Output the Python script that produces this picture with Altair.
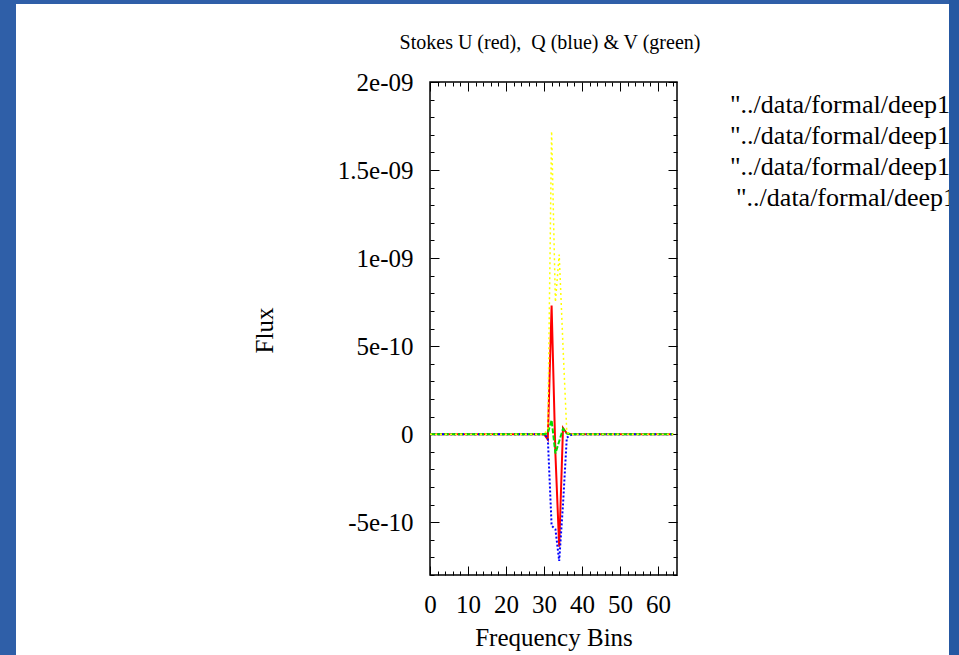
import json
import altair as alt
import pandas as pd

# ---------------- data ----------------
bins = list(range(65))

flux_u_red = [
    0, 0, 0, 0, 0, 0, 0, 0, 0, 0,
    0, 0, 0, 0, 0, 0, 0, 0, 0, 0,
    0, 0, 0, 0, 0, 0, 0, 0, 0, 0,
    0, -0.3e-10, 7.3e-10, -1.1e-10, -6.4e-10, 0.35e-10, 0.05e-10, 0, 0, 0,
    0, 0, 0, 0, 0, 0, 0, 0, 0, 0,
    0, 0, 0, 0, 0, 0, 0, 0, 0, 0,
    0, 0, 0, 0, 0,
]
flux_q_blue = [
    0, 0, 0, 0, 0, 0, 0, 0, 0, 0,
    0, 0, 0, 0, 0, 0, 0, 0, 0, 0,
    0, 0, 0, 0, 0, 0, 0, 0, 0, 0,
    0, -0.2e-10, -5.2e-10, -5.4e-10, -7.2e-10, -4.0e-10, -0.2e-10, -0.05e-10, 0, 0,
    0, 0, 0, 0, 0, 0, 0, 0, 0, 0,
    0, 0, 0, 0, 0, 0, 0, 0, 0, 0,
    0, 0, 0, 0, 0,
]
flux_v_green = [
    0, 0, 0, 0, 0, 0, 0, 0, 0, 0,
    0, 0, 0, 0, 0, 0, 0, 0, 0, 0,
    0, 0, 0, 0, 0, 0, 0, 0, 0, 0,
    0, 0.05e-10, 0.8e-10, -1.1e-10, -0.4e-10, 0.3e-10, 0.05e-10, 0, 0, 0,
    0, 0, 0, 0, 0, 0, 0, 0, 0, 0,
    0, 0, 0, 0, 0, 0, 0, 0, 0, 0,
    0, 0, 0, 0, 0,
]
flux_yellow = [
    0, 0, 0, 0, 0, 0, 0, 0, 0, 0,
    0, 0, 0, 0, 0, 0, 0, 0, 0, 0,
    0, 0, 0, 0, 0, 0, 0, 0, 0, 0,
    0.05e-10, 0.2e-10, 17.2e-10, 7.5e-10, 10.2e-10, 5.0e-10, 0.1e-10, 0, 0, 0,
    0, 0, 0, 0, 0, 0, 0, 0, 0, 0,
    0, 0, 0, 0, 0, 0, 0, 0, 0, 0,
    0, 0, 0, 0, 0,
]

x_major_ticks = [0, 10, 20, 30, 40, 50, 60]
x_minor_ticks = list(range(0, 65, 2))
y_major_ticks = [-5e-10, 0, 5e-10, 1e-09, 1.5e-09, 2e-09]
y_tick_labels = ["-5e-10", "0", "5e-10", "1e-09", "1.5e-09", "2e-09"]
y_minor_ticks = [k * 1e-10 for k in range(-8, 21)]

chart_title = "Stokes U (red), \u00a0Q (blue) & V (green)"
x_title = "Frequency Bins"
y_title = "Flux"
key_labels = ['"../data/formal/deep1', '"../data/formal/deep1',
              '"../data/formal/deep1', '"../data/formal/deep1']

# ---------------- layout ----------------
W, H = 247, 493
PAD_L, PAD_T = 430, 82
PAD_R, PAD_B = 959 - PAD_L - W, 655 - PAD_T - H
FONT = "Liberation Serif"
BLUE_BG = "#2f5fa8"
BLUE_STRIP = "#2558a2"

x_scale = alt.Scale(domain=[0, 65], nice=False, zero=False)
y_scale = alt.Scale(domain=[-8e-10, 2e-09], nice=False, zero=False)

x_major_test = "datum.value % 10 === 0"
y_major_test = "abs(datum.value / 5e-10 - round(datum.value / 5e-10)) < 0.001"


def inner_tick_axis(orient, offset, values, test):
    return alt.Axis(
        orient=orient, offset=offset, values=values, labels=False,
        domain=False, grid=False, title="", tickColor="black", tickWidth=1,
        tickSize={"condition": {"test": test, "value": 9}, "value": 4},
    )


x_label_axis = alt.Axis(
    orient="bottom", values=x_major_ticks, format="d", ticks=False, tickSize=0,
    domain=False, grid=False, labelFont=FONT, labelFontSize=25,
    labelColor="black", labelPadding=17, labelFlush=False, labelOverlap=False,
    title=x_title, titleFont=FONT, titleFontSize=25, titleFontWeight="normal",
    titleColor="black", titleY=70, titleBaseline="alphabetic",
)
y_label_axis = alt.Axis(
    orient="left", values=y_major_ticks,
    labelExpr=json.dumps(y_tick_labels) + "[round(datum.value / 5e-10) + 1]",
    ticks=False, tickSize=0, domain=False, grid=False, labelFont=FONT,
    labelFontSize=25, labelColor="black", labelPadding=17, labelFlush=False,
    labelOverlap=False,
    title=y_title, titleFont=FONT, titleFontSize=25, titleFontWeight="normal",
    titleColor="black", titleAngle=270, titleX=-158, titleY=248,
    titleBaseline="alphabetic", titleAlign="center",
)


def series_layer(values, color, width, dash, x_axis, y_axis):
    df = pd.DataFrame({"bin": bins, "flux": values})
    mark_kw = dict(color=color, strokeWidth=width)
    if dash:
        mark_kw["strokeDash"] = dash
    return alt.Chart(df).mark_line(**mark_kw).encode(
        x=alt.X("bin:Q", scale=x_scale, axis=x_axis),
        y=alt.Y("flux:Q", scale=y_scale, axis=y_axis),
    )


red = series_layer(flux_u_red, "#ff0000", 2, None, x_label_axis, y_label_axis)
blue = series_layer(
    flux_q_blue, "#0000ff", 2, [2, 2],
    inner_tick_axis("top", -H, x_minor_ticks, x_major_test),
    inner_tick_axis("right", -W, y_minor_ticks, y_major_test),
)
green = series_layer(
    flux_v_green, "#00dd00", 2, [5, 2],
    inner_tick_axis("bottom", -H, x_minor_ticks, x_major_test),
    inner_tick_axis("left", -W, y_minor_ticks, y_major_test),
)
yellow = series_layer(flux_yellow, "#ffff00", 1.5, [2, 3], None, None)

one = pd.DataFrame({"k": [0]})


def strip(x1, x2, y1, y2, color):
    return alt.Chart(one).mark_rect(color=color).encode(
        x=alt.value(x1), x2=alt.value(x2), y=alt.value(y1), y2=alt.value(y2)
    )


title_text = alt.Chart(pd.DataFrame({"t": [chart_title]})).mark_text(
    font=FONT, fontSize=20, color="black", align="center", baseline="alphabetic"
).encode(text="t:N", x=alt.value(120), y=alt.value(-33))

key_x = [300, 300, 300, 306]
key_layers = []
for i, lab in enumerate(key_labels):
    key_layers.append(
        alt.Chart(pd.DataFrame({"t": [lab]})).mark_text(
            font=FONT, fontSize=26, color="black", align="left",
            baseline="alphabetic",
        ).encode(text="t:N", x=alt.value(key_x[i]), y=alt.value(31 + i * 31))
    )

left_strip = strip(-PAD_L, -PAD_L + 16, -PAD_T, H + PAD_B, BLUE_BG)
top_strip = strip(-PAD_L, W + PAD_R, -PAD_T, -PAD_T + 4, BLUE_BG)
right_strip = strip(519, W + PAD_R, -PAD_T, H + PAD_B, BLUE_STRIP)

chart = alt.layer(
    red, blue, green, yellow, title_text, *key_layers,
    left_strip, top_strip, right_strip,
).resolve_axis(
    x="independent", y="independent"
).properties(
    width=W, height=H,
    autosize=alt.AutoSizeParams(type="none"),
    padding={"left": PAD_L, "top": PAD_T, "right": PAD_R, "bottom": PAD_B},
).configure(
    background="white",
).configure_view(
    stroke="black", strokeWidth=1.5,
)

chart.save("out.html", embed_options={"renderer": "svg", "actions": False})
